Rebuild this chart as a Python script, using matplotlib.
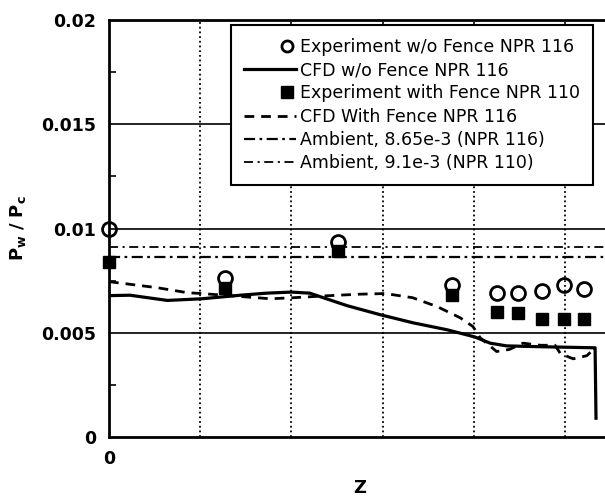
import matplotlib
matplotlib.use("Agg")
import matplotlib.pyplot as plt
from matplotlib.legend_handler import HandlerLine2D

# experiment points
z_exp = [0, 1.27, 2.51, 3.76, 4.25, 4.49, 4.75, 4.99, 5.21]
p_exp_nofence = [0.0100, 0.00764, 0.00933, 0.00731, 0.00692, 0.00692, 0.00702, 0.00731, 0.00711]
p_exp_fence = [0.00841, 0.00716, 0.0089, 0.00683, 0.00601, 0.00596, 0.00567, 0.00567, 0.00567]

# CFD without fence
z_cfd = [0, 0.23, 0.64, 1.02, 1.44, 1.73, 2.0, 2.2, 2.35, 2.61, 2.97, 3.33, 3.71, 4.01,
         4.18, 4.36, 4.73, 5.31, 5.33, 5.34]
p_cfd = [0.00678, 0.0068, 0.00655, 0.00663, 0.0068, 0.0069, 0.00695, 0.0069, 0.00668, 0.0063,
         0.00587, 0.00548, 0.00514, 0.0048, 0.0045, 0.00437, 0.00433, 0.00428, 0.00428, 0.0009]

# CFD with fence
z_cfd_fence = [0, 0.53, 0.86, 1.02, 1.77, 2.02, 2.42, 2.75, 3.03, 3.33, 3.6, 3.85, 3.99, 4.07,
               4.25, 4.39, 4.54, 4.73, 4.89, 4.95, 5.09, 5.24, 5.31]
p_cfd_fence = [0.00745, 0.00716, 0.00692, 0.00688, 0.00663, 0.00668, 0.00678, 0.00685, 0.00688,
               0.00668, 0.00625, 0.00572, 0.0053, 0.00476, 0.0041, 0.0042, 0.0045, 0.0044, 0.0044,
               0.004, 0.00375, 0.0039, 0.0042]

amb_116 = 8.65e-3
amb_110 = 9.1e-3

labels = ["Experiment w/o Fence NPR 116", "CFD w/o Fence NPR 116",
          "Experiment with Fence NPR 110", "CFD With Fence NPR 116",
          "Ambient, 8.65e-3 (NPR 116)", "Ambient, 9.1e-3 (NPR 110)"]


class MarkerRight(HandlerLine2D):
    # put legend markers next to the text like the original
    def create_artists(self, legend, orig_handle, xdescent, ydescent, width, height,
                       fontsize, trans):
        arts = super().create_artists(legend, orig_handle, xdescent, ydescent, width,
                                      height, fontsize, trans)
        x = -xdescent + width - 6
        arts[0].set_xdata([x, x, x])
        return arts


fig = plt.figure(figsize=(6.05, 5.03), dpi=100)
ax = fig.add_axes([109 / 605, 66 / 503, 501 / 605, 417 / 503])

xmax = 501 / 91.2
ax.set_xlim(0, xmax)
ax.set_ylim(0, 0.02)

# grid
for yv in [0.005, 0.01, 0.015]:
    ax.axhline(yv, color="black", lw=1.2, zorder=1)
for xv in [1, 2, 3, 4, 5]:
    ax.axvline(xv, color="black", lw=1.3, linestyle=(0, (1, 1.6)), zorder=1)

ax.axhline(amb_116, color="black", lw=1.6, dashes=(5, 2, 1.2, 2), label=labels[4], zorder=2)
ax.axhline(amb_110, color="black", lw=1.3, dashes=(5, 2.5, 1.2, 2.5), label=labels[5], zorder=2)

ax.plot(z_cfd, p_cfd, color="black", lw=2.3, label=labels[1], zorder=3)
ax.plot(z_cfd_fence, p_cfd_fence, color="black", lw=2.0, dashes=(3.5, 2.5),
        label=labels[3], zorder=3)

ax.plot(z_exp, p_exp_nofence, "o", mfc="none", mec="black", mew=2, ms=10,
        label=labels[0], clip_on=False, zorder=4)
ax.plot(z_exp, p_exp_fence, "s", color="black", ms=8, label=labels[2], clip_on=False, zorder=4)

handles, labs = ax.get_legend_handles_labels()
order = [labs.index(l) for l in labels]
leg = ax.legend([handles[i] for i in order], [labs[i] for i in order],
                loc="upper right", bbox_to_anchor=(593 / 605, 478 / 503),
                bbox_transform=fig.transFigure, fontsize=12.5, frameon=True,
                fancybox=False, framealpha=1, edgecolor="black", borderaxespad=0,
                handlelength=3.0, handletextpad=0.25, labelspacing=0.3, borderpad=0.75,
                handler_map={handles[order[0]]: MarkerRight(numpoints=1),
                             handles[order[2]]: MarkerRight(numpoints=1)})
leg.get_frame().set_linewidth(1.5)
leg.set_zorder(5)
for h in leg.legend_handles:
    if h.get_marker() == "o":
        h.set_markersize(8)
    elif h.get_marker() == "s":
        h.set_markersize(9)

ax.set_xticks([0])
ax.set_xticklabels(["0"], fontweight="bold", fontsize=12.5)
ax.set_yticks([0, 0.005, 0.01, 0.015, 0.02])
ax.set_yticklabels(["0", "0.005", "0.01", "0.015", "0.02"], fontweight="bold", fontsize=12.5)
ax.set_yticks([0.0025, 0.0075, 0.0125, 0.0175], minor=True)
ax.tick_params(axis="both", which="major", length=0, pad=9)
ax.tick_params(axis="y", which="minor", direction="in", length=5, width=1.2)

ax.set_xlabel("Z", fontweight="bold", fontsize=13, labelpad=8)
ax.set_ylabel(r"$\mathbf{P_w\ /\ P_c}$", fontsize=13, labelpad=10)

for side in ["left", "bottom", "top"]:
    ax.spines[side].set_linewidth(2)
ax.spines["right"].set_visible(False)

fig.savefig("out.png", dpi=100)
